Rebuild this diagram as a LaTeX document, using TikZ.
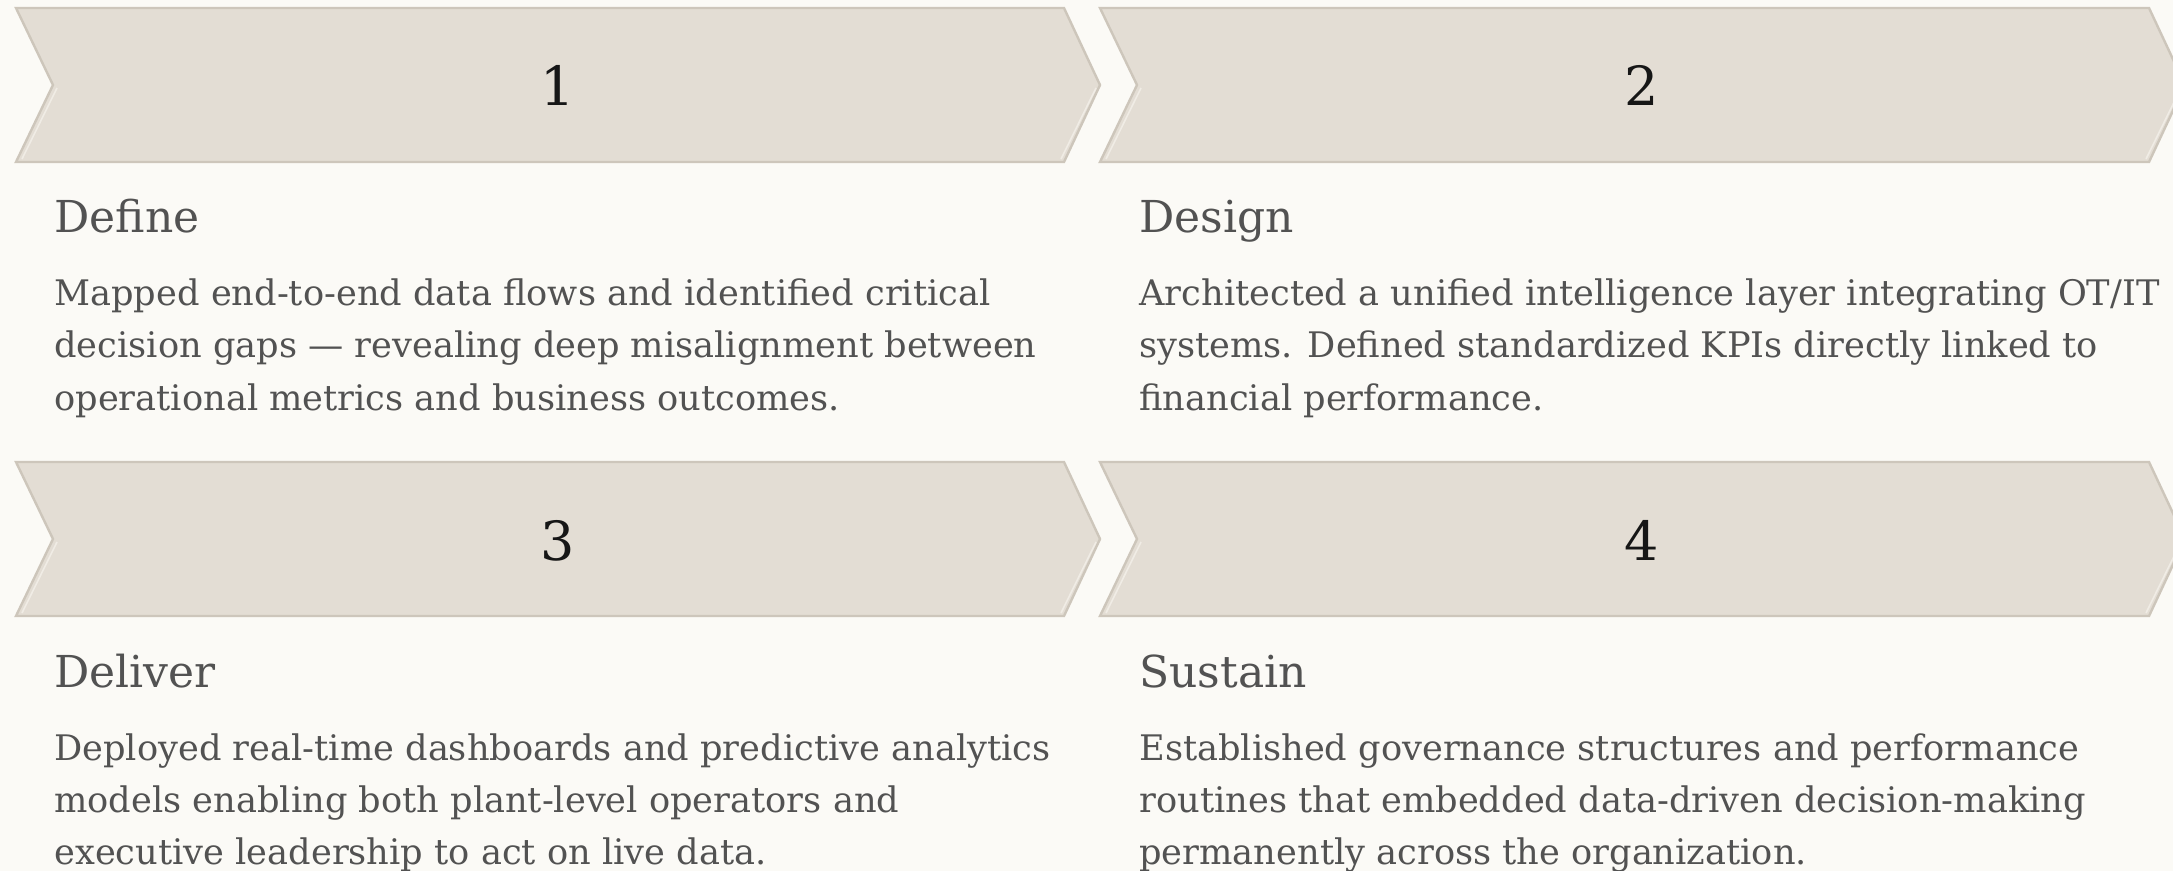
\documentclass[tikz,border=0pt]{standalone}
\usepackage{fontspec}
\setmainfont{DejaVu Serif}
\usepackage{xcolor}
\usepackage{tikz}

\definecolor{paper}{RGB}{251,250,246}
\definecolor{chevfill}{RGB}{227,221,212}
\definecolor{chevline}{RGB}{205,198,187}
\definecolor{chevlight}{RGB}{240,236,229}
\definecolor{inkgray}{RGB}{82,82,82}
\definecolor{inknum}{RGB}{22,22,22}

\tikzset{
  chevron/.style={fill=chevfill, draw=chevline, line width=1.2pt, line join=miter},
  chevbevel/.style={draw=chevlight, line width=0.8pt},
  stepnum/.style={anchor=base, inner sep=0pt, text=inknum, font=\fontsize{27}{32}\selectfont},
  steptitle/.style={anchor=base west, inner sep=0pt, text=inkgray, font=\fontsize{22}{26}\selectfont},
  stepbody/.style={anchor=base west, inner sep=0pt, text=inkgray, align=left, font=\fontsize{17.6}{26}\selectfont},
}

\begin{document}
\begin{tikzpicture}[x=0.5pt,y=0.5pt,yscale=-1,xscale=1]
%set diagram area: 2173 wide, 871 high
\fill [paper] (0,0) rectangle (2173,871);
\useasboundingbox (0,0) rectangle (2173,871);

%Shape: Chevron 1
\draw [chevron] (16,8) -- (1064,8) -- (1100,85) -- (1064,162) -- (16,162) -- (53,85) -- cycle ;
\draw [chevbevel] (57,88) -- (22,159) (1096,88) -- (1061,159) ;
%Shape: Chevron 2
\draw [chevron] (1100,8) -- (2149,8) -- (2185,85) -- (2149,162) -- (1100,162) -- (1137,85) -- cycle ;
\draw [chevbevel] (1141,88) -- (1106,159) (2181,88) -- (2146,159) ;
%Shape: Chevron 3
\draw [chevron] (16,462) -- (1064,462) -- (1100,539) -- (1064,616) -- (16,616) -- (53,539) -- cycle ;
\draw [chevbevel] (57,542) -- (22,613) (1096,542) -- (1061,613) ;
%Shape: Chevron 4
\draw [chevron] (1100,462) -- (2149,462) -- (2185,539) -- (2149,616) -- (1100,616) -- (1137,539) -- cycle ;
\draw [chevbevel] (1141,542) -- (1106,613) (2181,542) -- (2146,613) ;

% Text Node
\draw (558,106) node (num1) [stepnum] {1};
% Text Node
\draw (1642,106) node (num2) [stepnum] {2};
% Text Node
\draw (558,560) node (num3) [stepnum] {3};
% Text Node
\draw (1642,560) node (num4) [stepnum] {4};

% Text Node
\draw (54,233) node (define) [steptitle] {Define};
% Text Node (base = last line)
\draw (54,410) node (definetxt) [stepbody] {Mapped end-to-end data flows and identified critical\\decision gaps — revealing deep misalignment between\\operational metrics and business outcomes.};
% Text Node
\draw (1139,233) node (design) [steptitle] {Design};
% Text Node
\draw (1139,410) node (designtxt) [stepbody] {Architected a unified intelligence layer integrating OT/IT\\systems. Defined standardized KPIs directly linked to\\financial performance.};
% Text Node
\draw (54,687) node (deliver) [steptitle] {Deliver};
% Text Node
\draw (54,864) node (delivertxt) [stepbody] {Deployed real-time dashboards and predictive analytics\\models enabling both plant-level operators and\\executive leadership to act on live data.};
% Text Node
\draw (1139,687) node (sustain) [steptitle] {Sustain};
% Text Node
\draw (1139,864) node (sustaintxt) [stepbody] {Established governance structures and performance\\routines that embedded data-driven decision-making\\permanently across the organization.};
\end{tikzpicture}
\end{document}
